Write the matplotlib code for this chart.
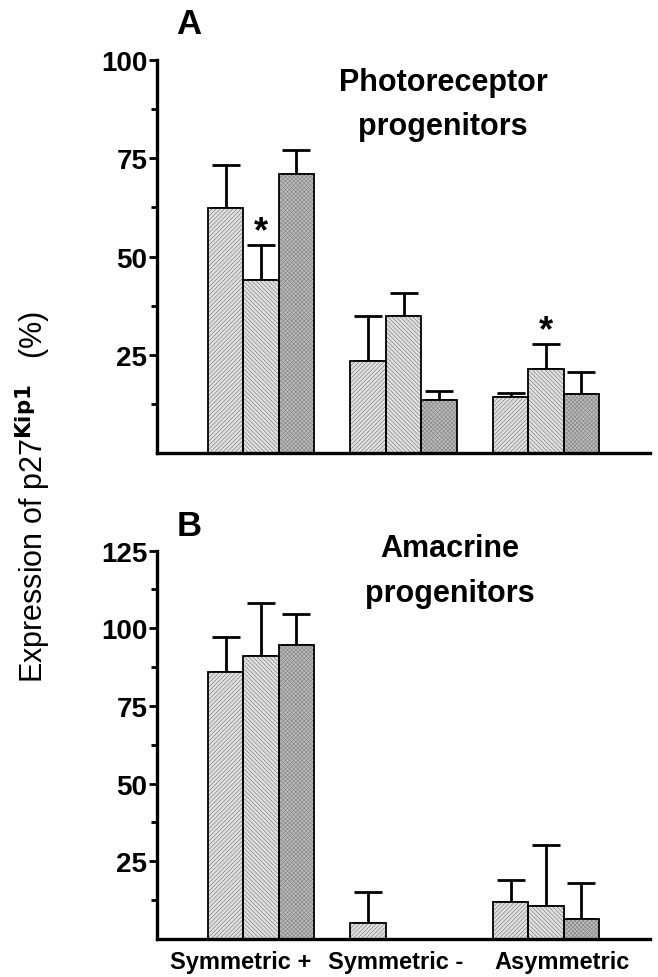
import numpy as np
import matplotlib.pyplot as plt
from matplotlib.ticker import FixedLocator
from matplotlib.transforms import ScaledTranslation

plt.rcParams['font.family'] = ['Liberation Sans', 'DejaVu Sans']
plt.rcParams['hatch.linewidth'] = 0.5

groups = ['Symmetric +', 'Symmetric -', 'Asymmetric']

# panel A: photoreceptor progenitors (mean, upper SE) for the 3 series
photo_vals = [[62.4, 23.3, 14.2], [43.9, 34.8, 21.4], [71.1, 13.5, 15.0]]
photo_err = [[10.8, 11.6, 1.0], [9.0, 5.8, 6.3], [5.9, 2.4, 5.5]]
photo_stars = [(1, 0), (1, 2)]  # (series, group)

# panel B: amacrine progenitors
amac_vals = [[86.0, 5.1, 12.0], [91.1, np.nan, 10.7], [94.5, np.nan, 6.4]]
amac_err = [[11.3, 10.0, 6.9], [16.9, np.nan, 19.6], [10.1, np.nan, 11.7]]

face = ['#e2e2e2', '#e2e2e2', '#bcbcbc']
hatch_col = ['#858585', '#858585', '#8a8a8a']
hatches = ['////////', '\\\\\\\\\\\\\\\\', 'xxxxxxxx']

fig = plt.figure(figsize=(6.58, 9.78), dpi=100)
W, H = 658, 978


def axes_px(left, right, top, bottom):
    return fig.add_axes([left / W, 1 - bottom / H, (right - left) / W, (bottom - top) / H])


def panel(ax, vals, errs, ymax, stars=()):
    x = np.arange(len(groups))
    bw = 0.249
    for i in range(3):
        xs = x + (i - 1) * bw
        v = np.array(vals[i], dtype=float)
        e = np.array(errs[i], dtype=float)
        ax.bar(xs, v, bw, color=face[i], edgecolor=hatch_col[i], hatch=hatches[i],
               linewidth=0, zorder=2)
        ax.bar(xs, v, bw, fill=False, edgecolor='black', linewidth=1.3, zorder=3)
        ax.errorbar(xs, v, yerr=[np.zeros_like(e), e], fmt='none', ecolor='black',
                    elinewidth=2.0, capsize=10, capthick=2.0, zorder=1)
    for i, g in stars:
        top = vals[i][g] + errs[i][g]
        ax.annotate('*', (x[g] + (i - 1) * bw, top), xytext=(0, -3),
                    textcoords='offset points', ha='center', va='bottom',
                    fontsize=26, fontweight='bold')
    ax.set_xlim(-0.73, 2.73)
    ax.set_ylim(0, ymax)
    ax.spines['top'].set_visible(False)
    ax.spines['right'].set_visible(False)
    for s in ('left', 'bottom'):
        ax.spines[s].set_linewidth(2.4)
    ax.yaxis.set_major_locator(FixedLocator(np.arange(25, ymax + 1, 25)))
    ax.yaxis.set_minor_locator(FixedLocator(np.arange(12.5, ymax, 25)))
    ax.tick_params(axis='y', which='major', length=6, width=2, labelsize=20, pad=1)
    ax.tick_params(axis='y', which='minor', length=4, width=2)
    for lab in ax.get_yticklabels():
        lab.set_fontweight('bold')
    ax.set_xticks(x)
    ax.tick_params(axis='x', length=0)


axA = axes_px(157, 650, 61, 454)
panel(axA, photo_vals, photo_err, 100, photo_stars)
axA.set_xticklabels([])

axB = axes_px(157, 650, 551.5, 940)
panel(axB, amac_vals, amac_err, 125)
axB.set_xticklabels(groups, fontsize=17, fontweight='bold')
axB.tick_params(axis='x', pad=8)
for lab, dx in zip(axB.get_xticklabels(), [-20, -8, 16]):
    lab.set_transform(lab.get_transform() + ScaledTranslation(dx / 100, 0, fig.dpi_scale_trans))

fig.text(189 / W, 1 - 25 / H, 'A', fontsize=25, fontweight='bold', ha='center', va='center')
fig.text(189 / W, 1 - 526 / H, 'B', fontsize=25, fontweight='bold', ha='center', va='center')

fig.text(443 / W, 1 - 83 / H, 'Photoreceptor', fontsize=22, fontweight='bold', ha='center', va='center')
fig.text(443 / W, 1 - 127 / H, 'progenitors', fontsize=22, fontweight='bold', ha='center', va='center')
fig.text(450 / W, 1 - 549 / H, 'Amacrine', fontsize=22, fontweight='bold', ha='center', va='center')
fig.text(450 / W, 1 - 594 / H, 'progenitors', fontsize=22, fontweight='bold', ha='center', va='center')

fig.text(33 / W, 1 - 497 / H, r'Expression of p27$^{\mathbf{Kip1}}$   (%)', rotation=90,
         fontsize=22, ha='center', va='center')

fig.savefig('out.png', dpi=100)
